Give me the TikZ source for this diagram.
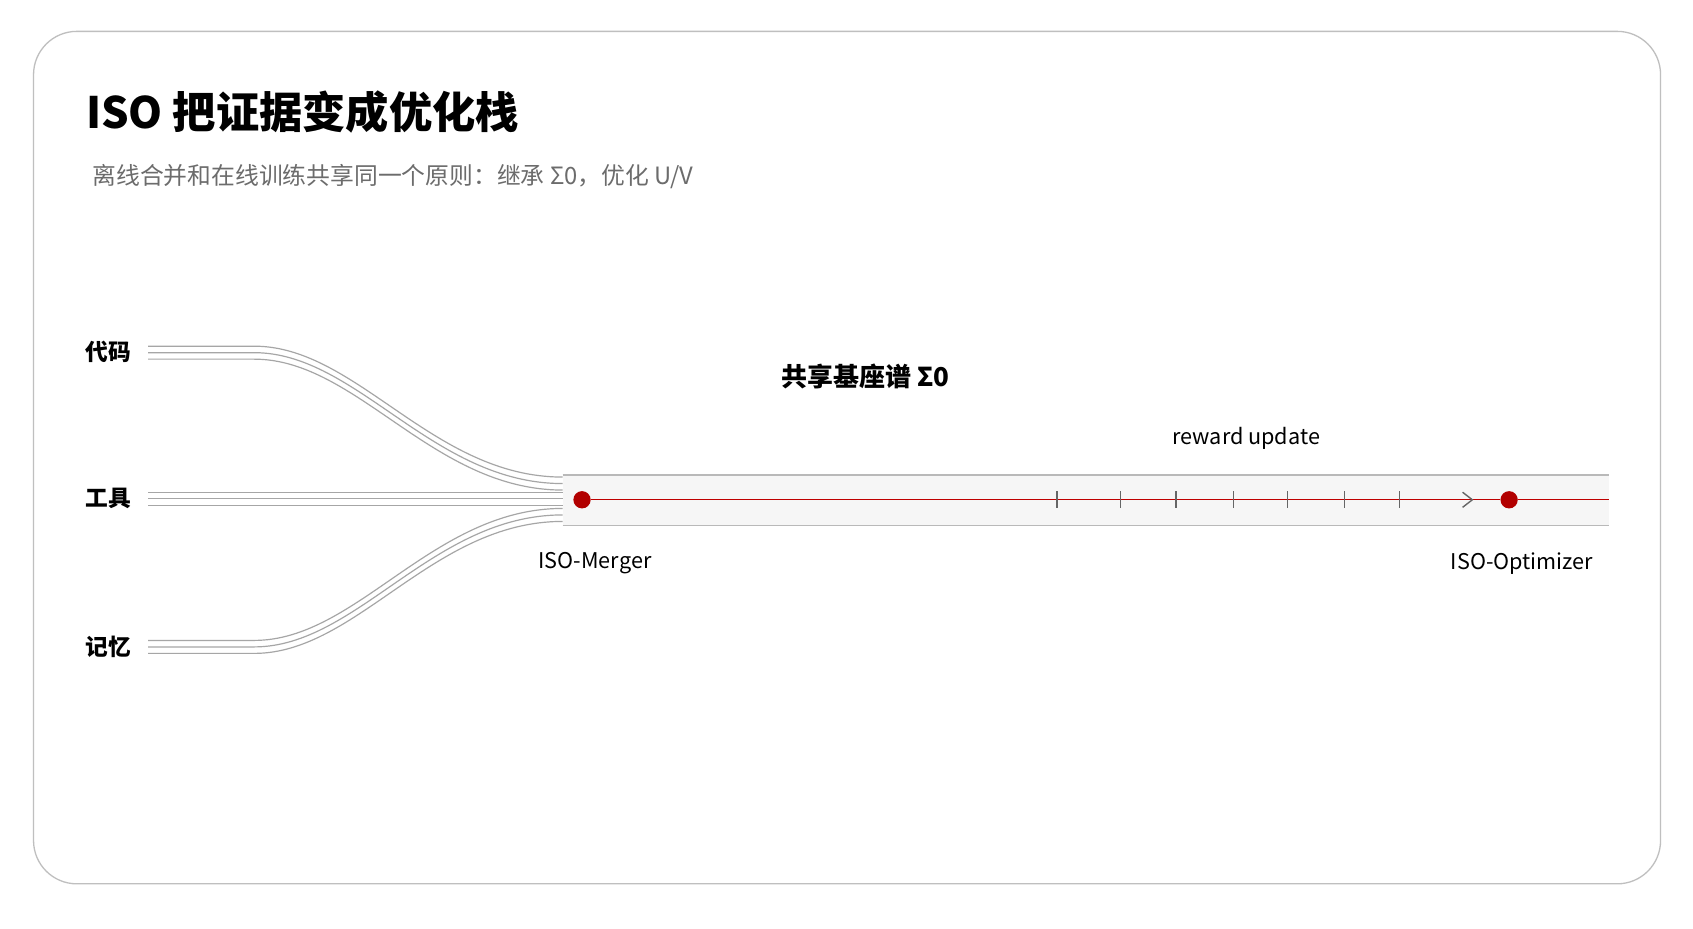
\documentclass[tikz,border=0pt]{standalone}
\usepackage{fontspec}
\setmainfont{Noto Sans CJK SC}
\newfontfamily\cjkb{Noto Sans CJK SC}[BoldFont={* Bold}]
\begin{document}
\begin{tikzpicture}[x=1pt,y=-1pt,
  strand/.style={draw=gray!70,line width=1.1pt},
  lab/.style={font=\fontsize{21}{21}\selectfont\bfseries,anchor=center},
  tick/.style={draw=gray!80!black,line width=1.1pt},
  dot/.style={circle,fill=red!70!black,minimum size=16pt,inner sep=0pt}]
\useasboundingbox (0,0) rectangle (1565,858);
\fill[white] (0,0) rectangle (1565,858);
\draw[gray!50,line width=1.2pt,rounded corners=40pt] (31,29) rectangle (1535,817);
\node[anchor=west,font=\fontsize{40}{40}\selectfont\bfseries] (title) at (76,104) {ISO 把证据变成优化栈};
\node[anchor=west,font=\fontsize{22}{22}\selectfont,text=gray!85!black] (sub) at (82,163) {离线合并和在线训练共享同一个原则：继承 Σ0，优化 U/V};
\node[lab] (code) at (100,325) {代码};
\node[lab] (tool) at (100,461) {工具};
\node[lab] (mem) at (100,598) {记忆};
% tube
\fill[gray!7] (520,439) rectangle (1487,486);
\draw[gray!55,line width=1.2pt] (520,439) -- (1487,439);
\draw[gray!55,line width=1.2pt] (520,486) -- (1487,486);
% strands
\foreach \i/\d in {0/0,1/6,2/12}{
  \draw[strand] (137,320+\d) -- (235,320+\d) .. controls (330,320+\d) and (400,441+\d) .. (520,441+\d);
  \draw[strand] (137,455+\d) -- (520,455+\d);
  \draw[strand] (137,592+\d) -- (235,592+\d) .. controls (330,592+\d) and (400,470+\d) .. (520,470+\d);
}
\node[dot] (m) at (538,462) {};
\node[dot] (o) at (1395,462) {};
\coordinate (e) at (1487,462);
\draw[red!75!black,line width=1.1pt] (m) -- (o) -- (e);
\foreach \x in {977,1036,1087,1140,1190,1243,1294}{
  \draw[tick] (\x,454) -- (\x,470);
}
\draw[gray!80!black,line width=1.3pt] (1352,455) -- (1361,462) -- (1352,469);
\node[font=\fontsize{20}{20}\selectfont] (ru) at (1152,405) {reward update};
\node[font=\fontsize{24}{24}\selectfont\bfseries] (sig) at (800,348) {共享基座谱 Σ0};
\node[font=\fontsize{20}{20}\selectfont] (ml) at (550,521) {ISO-Merger};
\node[font=\fontsize{20}{20}\selectfont] (ol) at (1407,521) {ISO-Optimizer};
\end{tikzpicture}
\end{document}
